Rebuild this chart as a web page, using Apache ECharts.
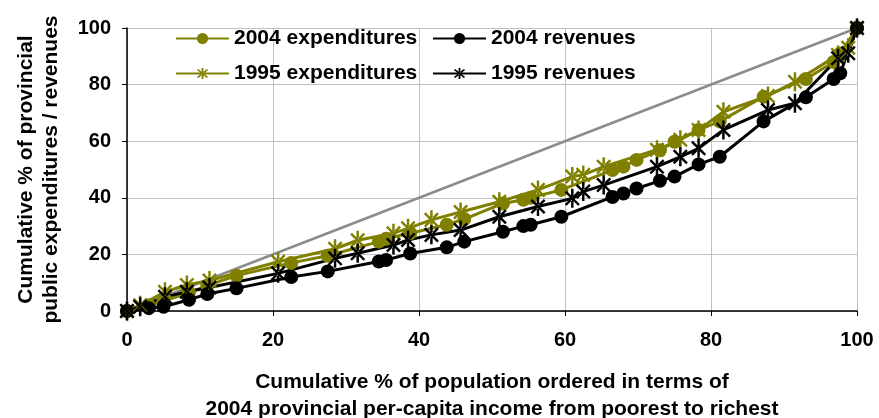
<!DOCTYPE html>
<html><head><meta charset="utf-8">
<script src="https://cdn.jsdelivr.net/npm/echarts@6/dist/echarts.min.js"></script>
<style>html,body{margin:0;padding:0;background:#fff}#c{width:879px;height:418px}</style>
</head><body><div id="c"></div>
<script>
// 2004: provinces ordered by 2004 per-capita income
const x2004 = [0,3,5,8.5,11,15,22.5,27.5,34.5,35.5,38.8,43.8,46.2,51.5,54.3,55.3,59.5,66.5,68,69.8,73,75,78.3,81.2,87.2,93,96.8,97.7,100];
const exp2004 = [0,2,3.5,6.5,9,12.5,17,19.5,24.5,25.5,27.5,30.5,32.5,38,39.3,40,42.8,49.8,51,53.4,56.8,59.8,64,67,75.7,82,88,91,100];
const rev2004 = [0,1,1.5,4,6,8,12,14,17.5,18,20.3,22.5,24.5,28,30,30.5,33.3,40.3,41.5,43.3,46,47.5,51.8,54.5,67,75.5,82,84,100];
// 1995
const x1995 = [0,1.8,5.2,8.2,11.3,20.7,28.5,31.6,36.5,38.5,41.7,45.7,51,56.3,61,62.5,65.3,72.6,75.8,78.3,81.7,87.8,91.5,97.4,98.8,100];
const exp1995 = [0,2,6.8,9.2,10.8,17.4,22,25,27.5,29.2,32.2,35,38.6,42.8,47.5,48.1,51,57,60.5,64,70.4,76,81,90.5,93,100];
const rev1995 = [0,1.5,5,6.8,8.3,13.3,18.6,20.4,23.3,25.1,26.9,28.6,33.3,36.9,39.8,42.2,44.5,51,54.5,57.5,64,71,73.4,89.3,91.1,100];
const equality = [[0,0],[100,100]];
const names = ['2004 expenditures','2004 revenues','1995 expenditures','1995 revenues'];
const xTitle = 'Cumulative % of population ordered in terms of\n2004 provincial per-capita income from poorest to richest';
const yTitle = 'Cumulative % of provincial\npublic expenditures / revenues';

const zip = (xs, ys) => xs.map((x, i) => [x, ys[i]]);
const OLIVE = '#808000';
const STAR = 'path://M-1.3,-10L1.3,-10L1.3,10L-1.3,10Z' +
  'M-6.1,-7.9L7.9,6.1L6.1,7.9L-7.9,-6.1Z' +
  'M-6.1,7.9L7.9,-6.1L6.1,-7.9L-7.9,6.1Z';
const font = 'Liberation Sans, Arial, sans-serif';

const chart = echarts.init(document.getElementById('c'), null, {renderer: 'canvas'});
function lineSeries(name, data, color, symbol, size) {
  return {
    name, type: 'line', data, symbol, symbolSize: size, symbolKeepAspect: true,
    lineStyle: {color, width: 3}, itemStyle: {color}, z: 3, animation: false
  };
}
const legText = {fontFamily: font, fontWeight: 'bold', fontSize: 21, color: '#000'};
chart.setOption({
  animation: false,
  grid: {left: 127, right: 22, top: 28, bottom: 107, outerBoundsMode: 'none', containLabel: false},
  legend: [
    {data: [names[0], names[2]], orient: 'vertical', left: 170, top: 23, itemGap: 14,
     itemWidth: 53, itemHeight: 14, textStyle: legText},
    {data: [names[1], names[3]], orient: 'vertical', left: 427, top: 23, itemGap: 14,
     itemWidth: 53, itemHeight: 14, textStyle: legText}
  ],
  xAxis: {
    type: 'value', min: 0, max: 100, interval: 20,
    name: xTitle, nameLocation: 'middle', nameGap: 58,
    nameTextStyle: {fontFamily: font, fontWeight: 'bold', fontSize: 21, color: '#000', lineHeight: 27, verticalAlign: 'top'},
    axisLine: {lineStyle: {color: '#000', width: 1.5}},
    axisTick: {show: true, length: 5, lineStyle: {color: '#000'}},
    axisLabel: {fontFamily: font, fontWeight: 'bold', fontSize: 20, color: '#000', margin: 19},
    splitLine: {show: true, lineStyle: {color: '#c0c0c0', width: 1}}
  },
  yAxis: {
    type: 'value', min: 0, max: 100, interval: 20,
    name: yTitle, nameLocation: 'middle', nameGap: 63, nameRotate: 90,
    nameTextStyle: {fontFamily: font, fontWeight: 'bold', fontSize: 21, color: '#000', lineHeight: 25},
    axisLine: {show: true, lineStyle: {color: '#000', width: 1.5}},
    axisTick: {show: true, length: 5, lineStyle: {color: '#000'}},
    axisLabel: {fontFamily: font, fontWeight: 'bold', fontSize: 20, color: '#000', margin: 16},
    splitLine: {show: true, lineStyle: {color: '#c0c0c0', width: 1}}
  },
  series: [
    {name: 'equality', type: 'line', data: equality, symbol: 'none',
     lineStyle: {color: '#8c8c8c', width: 2.5}, z: 2, silent: true},
    lineSeries(names[0], zip(x2004, exp2004), OLIVE, 'circle', 14),
    lineSeries(names[1], zip(x2004, rev2004), '#000', 'circle', 14),
    lineSeries(names[2], zip(x1995, exp1995), OLIVE, STAR, 19),
    lineSeries(names[3], zip(x1995, rev1995), '#000', STAR, 19)
  ]
});
</script></body></html>
